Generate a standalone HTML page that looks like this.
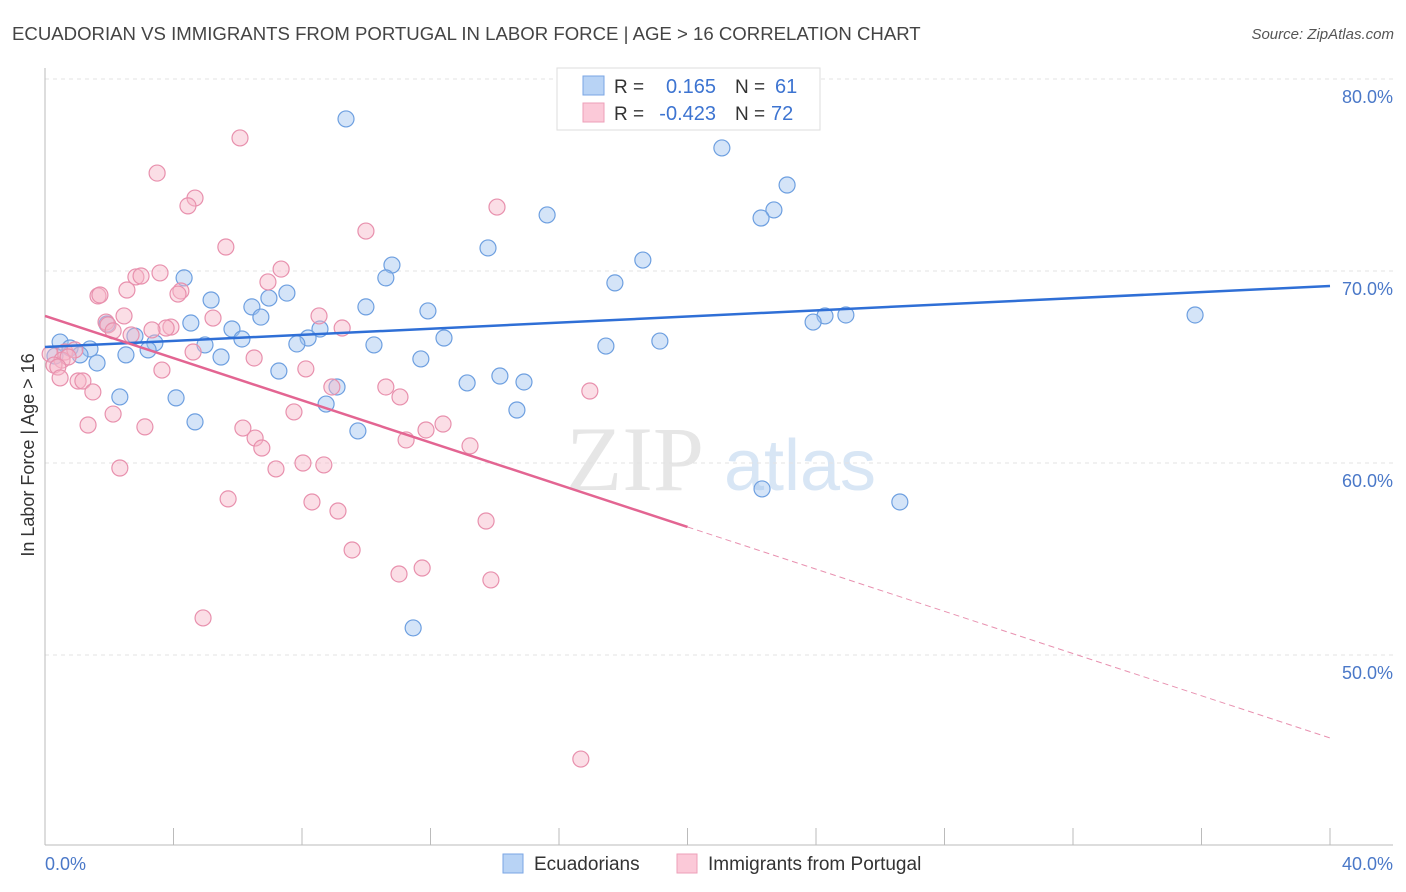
<!DOCTYPE html>
<html><head><meta charset="utf-8"><style>
body{margin:0;background:#fff;font-family:"Liberation Sans",sans-serif;}
svg{display:block}
</style></head><body>
<svg id="chart" width="1406" height="892">
<text x="12" y="40" font-size="18.6" fill="#444">ECUADORIAN VS IMMIGRANTS FROM PORTUGAL IN LABOR FORCE | AGE &gt; 16 CORRELATION CHART</text>
<text x="1394" y="39" font-size="15" fill="#555" font-style="italic" text-anchor="end">Source: ZipAtlas.com</text>
<g>
<text x="635" y="490" font-size="92" fill="#e6e6e6" font-family="Liberation Serif,serif" text-anchor="middle">ZIP</text>
<text x="800" y="490" font-size="72" fill="#d8e6f5" text-anchor="middle">atlas</text>
</g>
<g id="grid"></g>
<g id="axes"></g>
<g id="marks"></g>
<text transform="translate(34,455) rotate(-90)" font-size="18" fill="#333" text-anchor="middle">In Labor Force | Age &gt; 16</text>
<g>
<rect x="557" y="68" width="263" height="62" fill="#fff" stroke="#ddd"/>
<rect x="583" y="76" width="21" height="19" fill="#b8d3f5" stroke="#7aa6e4"/>
<rect x="583" y="103" width="21" height="19" fill="#fbc9d8" stroke="#ee9fb8"/>
<text x="614" y="93" font-size="19" fill="#333">R =</text>
<text x="716" y="93" font-size="20" fill="#3d74d1" text-anchor="end">0.165</text>
<text x="735" y="93" font-size="19" fill="#333">N =</text>
<text x="775" y="93" font-size="20" fill="#3d74d1">61</text>
<text x="614" y="120" font-size="19" fill="#333">R =</text>
<text x="716" y="120" font-size="20" fill="#3d74d1" text-anchor="end">-0.423</text>
<text x="735" y="120" font-size="19" fill="#333">N =</text>
<text x="771" y="120" font-size="20" fill="#3d74d1">72</text>
</g>
<g>
<rect x="503" y="854" width="20" height="19" fill="#b8d3f5" stroke="#7aa6e4"/>
<text x="534" y="870" font-size="19" fill="#333">Ecuadorians</text>
<rect x="677" y="854" width="20" height="19" fill="#fbc9d8" stroke="#ee9fb8"/>
<text x="708" y="870" font-size="19" fill="#333">Immigrants from Portugal</text>
</g>
</svg>
<script>
const yTicks=[80,70,60,50];
const yTickLabels=["80.0%","70.0%","60.0%","50.0%"];
const xEndLabels=["0.0%","40.0%"];
const blueX=[9.37,21.07,23.10,22.69,22.29,15.63,13.79,18.61,10.80,10.61,4.33,17.74,7.53,5.17,6.97,6.44,9.99,11.92,6.72,35.80,24.93,24.28,23.91,8.56,5.82,4.54,1.93,2.80,6.13,8.19,12.42,19.14,10.24,3.42,4.98,7.84,17.46,0.47,0.78,1.40,3.21,1.09,2.52,5.48,11.70,1.62,0.31,7.28,14.16,9.09,13.14,14.91,2.33,4.08,8.75,14.69,4.67,9.74,22.32,26.61,11.46];
const blueY=[77.92,76.41,74.48,73.18,72.76,72.92,71.20,70.57,70.31,69.64,69.64,69.38,68.85,68.49,68.59,68.13,68.13,67.92,67.60,67.71,67.71,67.66,67.34,66.98,66.98,67.29,67.24,66.61,66.46,66.51,66.51,66.35,66.15,66.25,66.15,66.20,66.09,66.30,65.99,65.94,65.89,65.63,65.63,65.52,65.42,65.21,65.57,64.79,64.53,63.96,64.17,64.22,63.44,63.39,63.07,62.76,62.14,61.67,58.65,57.97,51.41];
const pinkX=[6.07,3.49,4.67,4.45,14.07,9.99,5.63,7.35,2.83,2.99,3.58,6.94,2.55,1.65,1.71,4.23,4.14,8.53,2.46,5.23,1.90,1.96,3.92,3.77,3.33,9.25,2.12,2.68,4.61,6.51,0.62,0.93,0.16,0.53,0.72,0.28,0.40,3.64,8.12,1.03,0.47,1.18,1.49,8.93,10.61,11.05,7.75,2.12,1.34,3.11,6.16,12.39,11.86,6.54,6.75,11.24,13.23,16.96,8.03,8.68,7.19,2.33,5.70,8.31,9.12,13.73,9.56,11.74,11.02,13.88,4.92,16.68];
const pinkY=[76.93,75.10,73.80,73.39,73.33,72.08,71.25,70.10,69.69,69.74,69.90,69.43,69.01,68.70,68.75,68.96,68.80,67.66,67.66,67.55,67.34,67.19,67.08,67.03,66.93,67.03,66.88,66.67,65.78,65.47,65.78,65.89,65.68,65.36,65.52,65.10,65.00,64.84,64.90,64.27,64.43,64.27,63.70,63.96,63.96,63.44,62.66,62.55,61.98,61.88,61.82,62.03,61.72,61.30,60.78,61.20,60.89,63.75,60.00,59.90,59.69,59.74,58.13,57.97,57.50,56.98,55.47,54.53,54.22,53.91,51.93,44.58];
const blueTrend=[66.04,69.22];
const pinkTrend=[67.66,45.68];
const pinkSolidEnd=20;

const NS="http://www.w3.org/2000/svg";
const X=v=>45+v*32.125;
const Y=v=>79+(80-v)*19.2;
function mk(tag,attrs,parent){const e=document.createElementNS(NS,tag);for(const k in attrs)e.setAttribute(k,attrs[k]);parent.appendChild(e);return e;}
const grid=document.getElementById('grid'),axes=document.getElementById('axes'),marks=document.getElementById('marks');
yTicks.forEach((t,i)=>{
 const l=mk('line',{x1:45,x2:1393,y1:Y(t),y2:Y(t),stroke:'#e3e3e3','stroke-dasharray':'4,4'},grid);
 
 
 const tx=mk('text',{x:1393,y:Y(t)+24,'font-size':18,fill:'#4a78c8','text-anchor':'end'},axes);
 tx.textContent=yTickLabels[i];
 
 
});
const ya=mk('line',{x1:45,x2:45,y1:68,y2:845,stroke:'#bbb'},axes);


const xa=mk('line',{x1:45,x2:1393,y1:845,y2:845,stroke:'#bbb'},axes);


for(let i=0;i<=10;i++){
 const t=mk('line',{x1:X(i*4),x2:X(i*4),y1:828,y2:845,stroke:'#bbb'},axes);
 
 
}
const xl0=mk('text',{x:45,y:870,'font-size':18,fill:'#4a78c8'},axes);xl0.textContent=xEndLabels[0];


const xl1=mk('text',{x:1393,y:870,'font-size':18,fill:'#4a78c8','text-anchor':'end'},axes);xl1.textContent=xEndLabels[1];


blueX.forEach((x,i)=>{
 const c=mk('circle',{cx:X(x),cy:Y(blueY[i]),r:8,fill:'rgba(160,195,240,0.45)',stroke:'#6d9fe0','stroke-width':1.2},marks);
 
 
});
pinkX.forEach((x,i)=>{
 const c=mk('circle',{cx:X(x),cy:Y(pinkY[i]),r:8,fill:'rgba(247,182,200,0.45)',stroke:'#e890ad','stroke-width':1.2},marks);
 
 
});
const bl=mk('line',{x1:X(0),y1:Y(blueTrend[0]),x2:X(40),y2:Y(blueTrend[1]),stroke:'#2f6fd6','stroke-width':2.5},marks);


const pm=pinkTrend[0]+(pinkTrend[1]-pinkTrend[0])*pinkSolidEnd/40;
const pl=mk('line',{x1:X(0),y1:Y(pinkTrend[0]),x2:X(pinkSolidEnd),y2:Y(pm),stroke:'#e36592','stroke-width':2.5},marks);


const pd=mk('line',{x1:X(pinkSolidEnd),y1:Y(pm),x2:X(40),y2:Y(pinkTrend[1]),stroke:'#e891b0','stroke-width':1,'stroke-dasharray':'6,4'},marks);


</script>
</body></html>
